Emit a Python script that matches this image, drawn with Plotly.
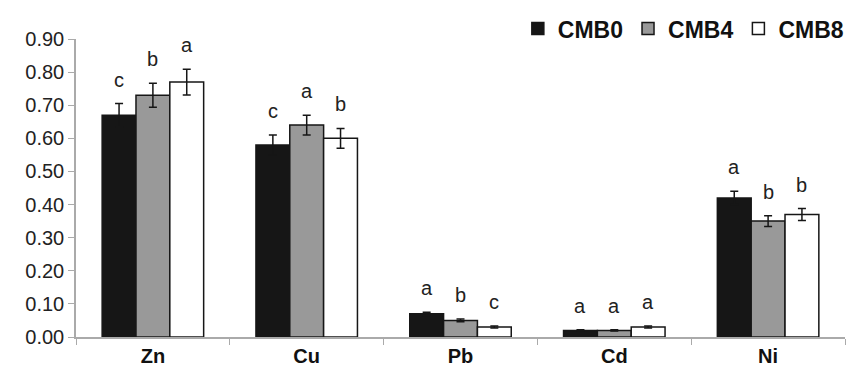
import plotly.graph_objects as go

categories = ["Zn", "Cu", "Pb", "Cd", "Ni"]
series_names = ["CMB0", "CMB4", "CMB8"]
cmb0 = [0.67, 0.58, 0.07, 0.02, 0.42]
cmb4 = [0.73, 0.64, 0.05, 0.02, 0.35]
cmb8 = [0.77, 0.60, 0.03, 0.03, 0.37]
err0 = [0.035, 0.030, 0.005, 0.002, 0.020]
err4 = [0.036, 0.030, 0.004, 0.002, 0.016]
err8 = [0.039, 0.030, 0.003, 0.003, 0.018]
let0 = ["c", "c", "a", "a", "a"]
let4 = ["b", "a", "b", "a", "b"]
let8 = ["a", "b", "c", "a", "b"]
tick_vals = [0, 0.1, 0.2, 0.3, 0.4, 0.5, 0.6, 0.7, 0.8, 0.9]
tick_text = ["0.00", "0.10", "0.20", "0.30", "0.40", "0.50", "0.60", "0.70", "0.80", "0.90"]

colors = ["#161616", "#999999", "#ffffff"]
values = [cmb0, cmb4, cmb8]
errors = [err0, err4, err8]
letters = [let0, let4, let8]

fig = go.Figure()
for name, vals, errs, col in zip(series_names, values, errors, colors):
    fig.add_trace(go.Bar(
        x=categories, y=vals, name="<b>%s</b>" % name,
        marker=dict(color=col, line=dict(color="#161616", width=1.5)),
        error_y=dict(type="data", array=errs, visible=True, color="#161616",
                     thickness=1.5, width=4),
    ))

offsets = [-1, 0, 1]
for k in range(3):
    for i, cat in enumerate(categories):
        fig.add_annotation(
            x=i + offsets[k] * 0.22, y=values[k][i] + errors[k][i],
            xref="x", yref="y", text=letters[k][i], showarrow=False,
            yanchor="bottom", yshift=11,
            font=dict(family="Liberation Sans, Arial", size=20, color="#222"),
        )

fig.update_layout(
    width=859, height=366,
    margin=dict(l=68, r=22, t=31, b=37, autoexpand=False),
    paper_bgcolor="white", plot_bgcolor="white",
    barmode="group", bargap=0.34, bargroupgap=0,
    showlegend=True,
    legend=dict(orientation="h", x=1.005, xanchor="right", y=1.035, yanchor="middle",
                font=dict(family="Liberation Sans, Arial", size=23, color="#111"),
                itemwidth=30, traceorder="normal", bgcolor="rgba(0,0,0,0)"),
    font=dict(family="Liberation Sans, Arial", color="#222"),
)
fig.update_xaxes(
    type="category", tickson="boundaries", ticks="outside", ticklen=6,
    tickcolor="#aaaaaa", showline=True, linecolor="#aaaaaa", linewidth=1.5,
    tickfont=dict(family="Liberation Sans, Arial", size=20, color="#111"),
    ticktext=["<b>%s</b>" % c for c in categories], tickvals=categories,
    showgrid=False,
)
fig.update_yaxes(
    range=[0, 0.9], tickvals=tick_vals, ticktext=tick_text, ticks="outside",
    ticklen=6, tickcolor="#aaaaaa", showline=True, linecolor="#aaaaaa", linewidth=1.5,
    tickfont=dict(family="Liberation Sans, Arial", size=20, color="#222"),
    showgrid=False, zeroline=False,
)
fig.write_html("out.html")
